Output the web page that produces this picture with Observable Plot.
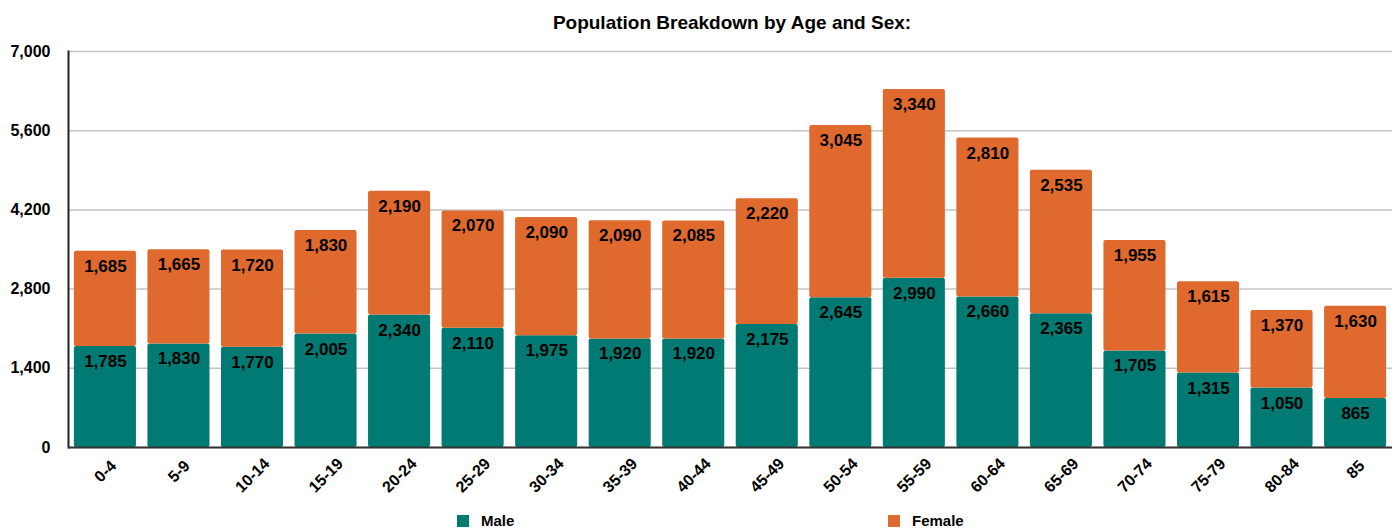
<!DOCTYPE html>
<html>
<head>
<meta charset="utf-8">
<script src="https://cdn.jsdelivr.net/npm/d3@7"></script>
<script src="https://cdn.jsdelivr.net/npm/@observablehq/plot@0.6"></script>
<style>
  body { margin: 0; background: #fff; font-family: "Liberation Sans", Arial, Helvetica, sans-serif; }
  #title { height: 44px; line-height: 46px; text-align: center; font-weight: bold; font-size: 19px; color: #000; padding-left: 66px; }
  #legend { position: relative; height: 27px; font-weight: bold; font-size: 15px; }
  .item { position: absolute; top: 8px; display: flex; align-items: center; }
  .sw { width: 12px; height: 12px; margin-right: 12px; }
</style>
</head>
<body>
<div id="title">Population Breakdown by Age and Sex:</div>
<div id="chart"></div>
<div id="legend">
  <div class="item" style="left:457px"><div class="sw" style="background:#007A72"></div>Male</div>
  <div class="item" style="left:888px"><div class="sw" style="background:#E06A2E"></div>Female</div>
</div>
<script>
const ages = ["0-4","5-9","10-14","15-19","20-24","25-29","30-34","35-39","40-44","45-49","50-54","55-59","60-64","65-69","70-74","75-79","80-84","85"];
const male = [1785,1830,1770,2005,2340,2110,1975,1920,1920,2175,2645,2990,2660,2365,1705,1315,1050,865];
const female = [1685,1665,1720,1830,2190,2070,2090,2090,2085,2220,3045,3340,2810,2535,1955,1615,1370,1630];
const yTicks = [0,1400,2800,4200,5600,7000];
const sexes = ["Male","Female"];
const colors = ["#007A72","#E06A2E"];

const data = [];
ages.forEach((a, i) => {
  data.push({age: a, sex: "Male", value: male[i], base: 0, top: male[i]});
  data.push({age: a, sex: "Female", value: female[i], base: male[i], top: male[i] + female[i]});
});

const fmt = d3.format(",");
// rotated x labels: box centred under the bar, top edge aligned (longer labels sit lower)
const labelDy = {2: 22, 3: 24, 5: 28};
const xLabelMarks = [2, 3, 5].map(L => Plot.text(ages.filter(a => a.length === L), {
  x: d => d, frameAnchor: "bottom", rotate: -45, textAnchor: "middle", lineAnchor: "middle",
  dy: labelDy[L], fontSize: 16, fontWeight: "bold", fill: "#000"
}));

const chart = Plot.plot({
  width: 1398,
  height: 460,
  marginLeft: 68,
  marginRight: 6,
  marginTop: 7,
  marginBottom: 57,
  style: {fontFamily: "'Liberation Sans', Arial, Helvetica, sans-serif", fontWeight: "bold", color: "#000", background: "#fff"},
  x: {domain: ages, paddingInner: 0.156, paddingOuter: 0.08, round: false, label: null, axis: null},
  y: {domain: [0, 7000], ticks: yTicks, label: null, tickFormat: fmt},
  color: {domain: sexes, range: colors},
  marks: [
    Plot.gridY(yTicks, {stroke: "#c4c4c4", strokeOpacity: 1, strokeWidth: 1.5}),
    Plot.barY(data, {x: "age", y1: "base", y2: "top", fill: "sex", rx: 2}),
    Plot.text(data, {x: "age", y: "top", text: d => fmt(d.value), dy: 15, fontSize: 17, fontWeight: "bold", fill: "#000"}),
    Plot.axisY({ticks: yTicks, tickSize: 0, tickPadding: 18, fontSize: 16, fontWeight: "bold", tickFormat: fmt, label: null}),
    ...xLabelMarks,
    Plot.frame({anchor: "left", stroke: "#222", strokeWidth: 2}),
    Plot.ruleY([0], {stroke: "#333", strokeWidth: 2})
  ]
});
document.getElementById("chart").appendChild(chart);
</script>
</body>
</html>
